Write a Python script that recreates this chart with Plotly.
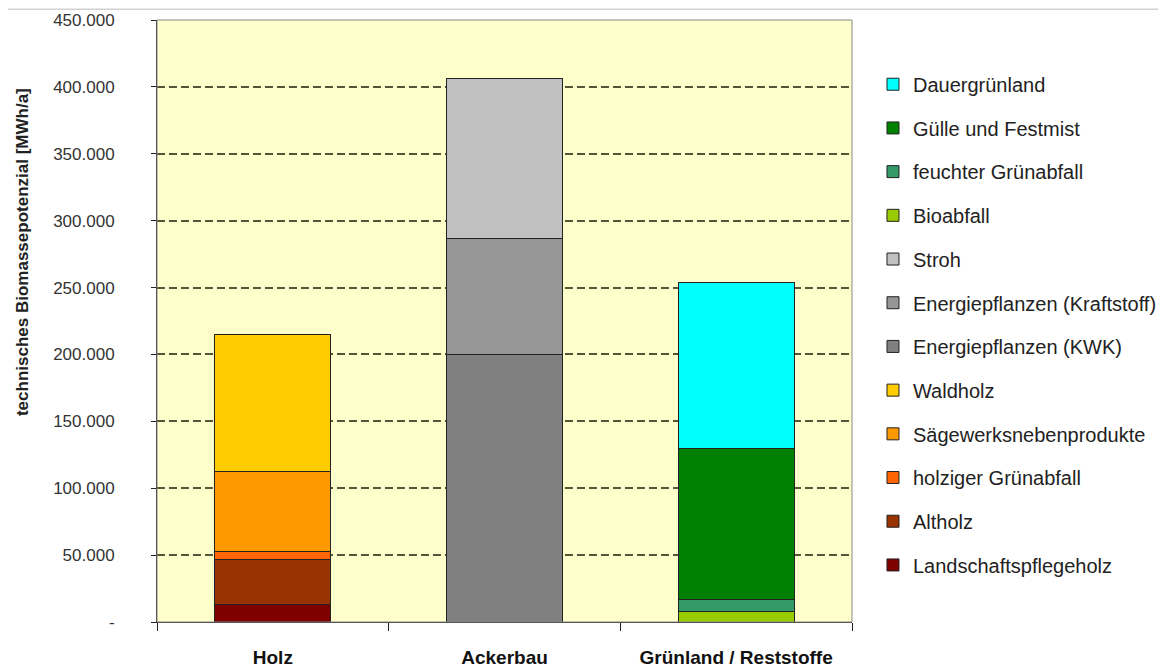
import plotly.graph_objects as go

categories = ["Holz", "Ackerbau", "Grünland / Reststoffe"]
category_labels = ["<b>Holz</b>", "<b>Ackerbau</b>", "<b>Grünland / Reststoffe</b>"]

# stack order bottom -> top (values in MWh/a)
series_names = [
    "Landschaftspflegeholz", "Altholz", "holziger Grünabfall", "Sägewerksnebenprodukte", "Waldholz",
    "Energiepflanzen (KWK)", "Energiepflanzen (Kraftstoff)", "Stroh",
    "Bioabfall", "feuchter Grünabfall", "Gülle und Festmist", "Dauergrünland",
]
landschaftspflegeholz = [13000, None, None]
altholz = [33500, None, None]
holziger_gruenabfall = [6500, None, None]
saegewerk = [59500, None, None]
waldholz = [102500, None, None]
ep_kwk = [None, 200000, None]
ep_kraftstoff = [None, 87000, None]
stroh = [None, 119000, None]
bioabfall = [None, None, 8200]
feuchter_gruenabfall = [None, None, 8500]
guelle = [None, None, 112700]
dauergruenland = [None, None, 124600]

series_values = [landschaftspflegeholz, altholz, holziger_gruenabfall, saegewerk, waldholz,
                 ep_kwk, ep_kraftstoff, stroh, bioabfall, feuchter_gruenabfall, guelle, dauergruenland]
colors = ["#800000", "#993300", "#FF6600", "#FF9900", "#FFCC00",
          "#808080", "#969696", "#C0C0C0",
          "#99CC00", "#339966", "#008000", "#00FFFF"]

y_tickvals = [0, 50000, 100000, 150000, 200000, 250000, 300000, 350000, 400000, 450000]
y_ticktext = ["-", "50.000", "100.000", "150.000", "200.000", "250.000", "300.000", "350.000", "400.000", "450.000"]
y_title = "technisches Biomassepotenzial [MWh/a]"

FONT = "Liberation Sans, Arial, sans-serif"

fig = go.Figure()
n = len(series_names)
for i, (name, vals, col) in enumerate(zip(series_names, series_values, colors)):
    fig.add_trace(go.Bar(
        x=categories, y=vals, name=name,
        marker=dict(color=col, line=dict(color="#222222", width=1)),
        legendgroup=name, legendrank=n - i,
    ))

fig.update_layout(
    barmode="stack",
    bargap=0.5,
    width=1158, height=660,
    margin=dict(l=149, r=314, t=12, b=46, autoexpand=False),
    paper_bgcolor="white",
    plot_bgcolor="#FFFFCC",
    font=dict(family=FONT, color="#222222"),
    showlegend=True,
    legend=dict(
        x=1.0302, xanchor="left", y=0.9257, yanchor="top",
        font=dict(size=20, color="#222222", family=FONT),
        tracegroupgap=14.7, bgcolor="rgba(0,0,0,0)",
        itemclick=False,
    ),
    xaxis=dict(
        type="category", automargin=False,
        tickvals=categories, ticktext=category_labels,
        showline=True, linecolor="#222222", linewidth=1,
        ticks="outside", tickson="boundaries", ticklen=8, tickcolor="#222222",
        tickfont=dict(size=19, color="#111111", family=FONT),
        ticklabelstandoff=18,
        showgrid=False,
    ),
    yaxis=dict(
        range=[0, 450000], automargin=False,
        tickvals=y_tickvals, ticktext=y_ticktext,
        showline=True, linecolor="#222222", linewidth=1,
        ticks="outside", ticklen=5, tickcolor="#222222",
        tickfont=dict(size=17, color="#333333", family=FONT),
        ticklabelstandoff=33,
        showgrid=True, gridcolor="#55553A", griddash="8px,4px", gridwidth=2,
        zeroline=False,
    ),
)

# y-axis title (placed off-centre as in the reference)
fig.add_annotation(text="<b>" + y_title + "</b>", xref="paper", yref="paper",
                   x=-0.1942, y=0.6146, textangle=-90, showarrow=False,
                   xanchor="center", yanchor="middle",
                   font=dict(size=17, color="#222222", family=FONT))

# plot area border (top/right thin gray)
fig.add_shape(type="rect", xref="paper", yref="paper", x0=0, y0=0, x1=1, y1=1,
              line=dict(color="#888888", width=1), layer="above")
# top frame line of the image
fig.add_shape(type="line", xref="paper", yref="paper", x0=-0.3, x1=1.46, y0=1.018, y1=1.018,
              line=dict(color="#BBBBBB", width=1))

fig.write_html("out.html")
